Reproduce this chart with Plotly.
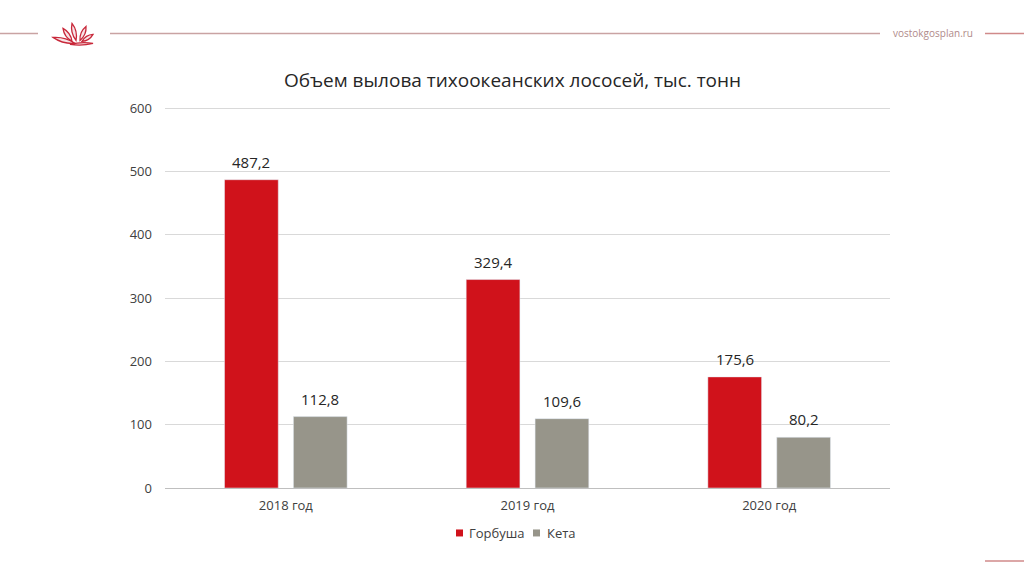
import plotly.graph_objects as go

categories = ["2018 год", "2019 год", "2020 год"]
gorbusha = [487.2, 329.4, 175.6]
keta = [112.8, 109.6, 80.2]
gorbusha_labels = ["487,2", "329,4", "175,6"]
keta_labels = ["112,8", "109,6", "80,2"]
y_ticks = [0, 100, 200, 300, 400, 500, 600]
series_names = ["Горбуша", "Кета"]
series_colors = ["#d0121b", "#97958a"]

W, H = 1024, 576
YMAX = 610
L, R, B = 165, 134, 88
T = 108 - 380 / 600 * (YMAX - 600)
PW, PH = W - L - R, H - T - B

def px(x):
    return (x - L) / PW

def py(y):
    return (H - B - y) / PH

FONT = "Open Sans"
BARGAP, GROUPGAP = 0.43, 0.22
slot_px = PW / len(categories) * (1 - BARGAP) / 2

fig = go.Figure()
for name, vals, col in zip(series_names, [gorbusha, keta], series_colors):
    fig.add_trace(go.Bar(name=name, x=categories, y=vals, marker_color=col,
                         showlegend=False))

annotations = []
for k, (vals, labs) in enumerate([(gorbusha, gorbusha_labels), (keta, keta_labels)]):
    shift = (k - 0.5) * slot_px
    for c, v, t in zip(categories, vals, labs):
        annotations.append(dict(x=c, y=v, text=t, xref="x", yref="y", showarrow=False,
                                xshift=shift, yshift=6, yanchor="bottom",
                                font=dict(size=15, color="#262626", family=FONT)))

line_col = "#c9a3a3"
shapes = [
    dict(type="line", xref="paper", yref="paper", x0=px(0), x1=px(38), y0=py(33), y1=py(33),
         line=dict(color=line_col, width=1.5)),
    dict(type="line", xref="paper", yref="paper", x0=px(110), x1=px(880), y0=py(33), y1=py(33),
         line=dict(color=line_col, width=1.5)),
    dict(type="line", xref="paper", yref="paper", x0=px(985), x1=px(1024), y0=py(33), y1=py(33),
         line=dict(color="#d08a8a", width=1.5)),
    dict(type="line", xref="paper", yref="paper", x0=px(985), x1=px(1024), y0=py(561), y1=py(561),
         line=dict(color="#d08a8a", width=1.5)),
]

# lotus logo: leaf-shaped petals (base, tip, width) in pixel coordinates
petals = [
    ((75, 43), (53, 37), 4),
    ((72, 41), (63, 28), 4),
    ((76, 40), (72, 23), 4),
    ((80, 40), (86, 26), 4),
    ((82, 41), (93, 34), 3.5),
    ((70, 44), (93, 43), 2.5),
]
for (bx, by), (tx, ty), w in petals:
    mx, my = (bx + tx) / 2, (by + ty) / 2
    dx, dy = tx - bx, ty - by
    n = (dx * dx + dy * dy) ** 0.5
    nx, ny = -dy / n * w, dx / n * w
    path = "M {} {} Q {} {} {} {} Q {} {} {} {} Z".format(
        px(bx), py(by), px(mx + nx), py(my + ny), px(tx), py(ty),
        px(mx - nx), py(my - ny), px(bx), py(by))
    shapes.append(dict(type="path", xref="paper", yref="paper", path=path,
                       line=dict(color="#c8283a", width=1.3), fillcolor="rgba(240,200,205,0.5)"))

# legend (manual)
leg_y = 533
leg_items = [(456, 467), (533, 545)]
for (sx, tx), name, col in zip(leg_items, series_names, series_colors):
    shapes.append(dict(type="rect", xref="paper", yref="paper",
                       x0=px(sx), x1=px(sx + 7), y0=py(leg_y - 3.5), y1=py(leg_y + 3.5),
                       fillcolor=col, line=dict(width=0)))
    annotations.append(dict(text=name, xref="paper", yref="paper", x=px(tx), y=py(leg_y),
                            xanchor="left", yanchor="middle", showarrow=False,
                            font=dict(size=13, color="#404040", family=FONT)))

annotations.append(dict(text="vostokgosplan.ru", xref="paper", yref="paper",
                        x=px(933), y=py(33), xanchor="center", yanchor="middle",
                        showarrow=False, font=dict(size=10, color="#b08a8a", family=FONT)))

fig.update_layout(
    width=W, height=H,
    margin=dict(l=L, r=R, t=T, b=B),
    paper_bgcolor="white", plot_bgcolor="white",
    barmode="group", bargap=BARGAP, bargroupgap=GROUPGAP,
    font=dict(family=FONT, color="#595959"),
    title=dict(text="Объем вылова тихоокеанских лососей, тыс. тонн",
               x=512.5 / W, xref="container", xanchor="center", y=1 - 80 / H, yanchor="middle",
               font=dict(size=19, color="#262626", family=FONT)),
    xaxis=dict(showgrid=False, showline=False, ticks="",
               tickfont=dict(size=13, color="#404040"), ticklabelstandoff=8),
    yaxis=dict(range=[0, YMAX], tickvals=y_ticks, showgrid=True, gridcolor="#d9d9d9",
               gridwidth=1, zeroline=True, zerolinecolor="#bfbfbf", zerolinewidth=1,
               tickfont=dict(size=13, color="#404040"), ticklabelstandoff=12),
    showlegend=False,
    shapes=shapes,
    annotations=annotations,
)

fig.write_html("out.html")
